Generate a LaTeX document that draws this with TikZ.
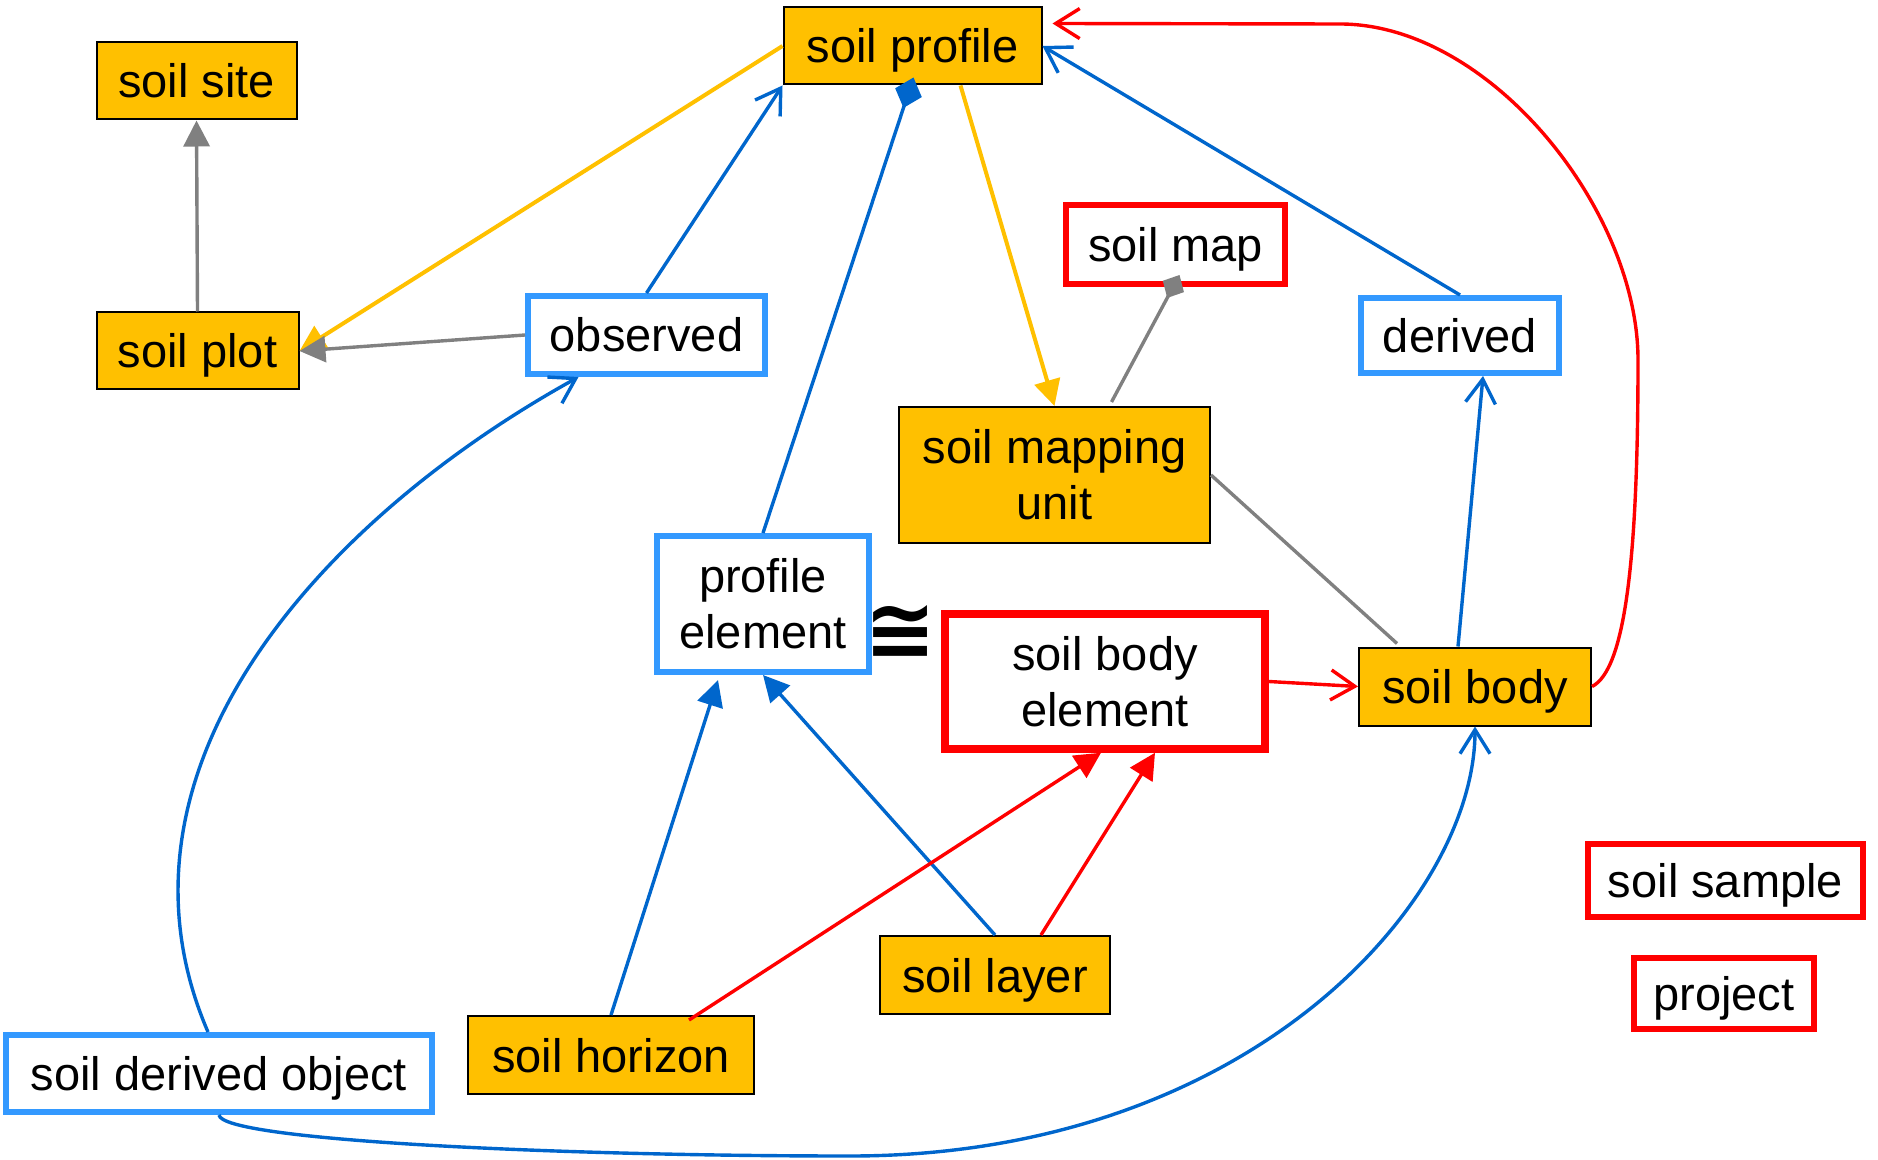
\documentclass[tikz,border=0pt]{standalone}
\usepackage{fontspec}
\setmainfont{Liberation Sans}
\newfontfamily\symfont{DejaVu Sans}
\usetikzlibrary{arrows.meta,calc}
\definecolor{ylw}{HTML}{FFC000}
\definecolor{bbord}{HTML}{3399FF}
\definecolor{bline}{HTML}{0066CC}
\definecolor{rd}{HTML}{FF0000}
\definecolor{gry}{HTML}{808080}
\begin{document}
\begin{tikzpicture}[x=0.5pt,y=-0.5pt,
  every node/.style={font=\fontsize{23.5}{28}\selectfont, inner sep=0pt, align=center},
  ybox/.style={draw=black, line width=1pt, fill=ylw},
  bbox/.style={draw=bbord, line width=3pt, fill=white},
  rbox/.style={draw=rd, line width=3pt, fill=white},
  one/.style={text height=17pt, text depth=0pt},
  conn/.style={line width=1.7pt},
  fillarr/.style={-{Triangle[length=13pt,width=13pt]}},
  openarr/.style={-{Straight Barb[length=12pt,width=15pt]}},
  diamarr/.style={-{Diamond[length=16pt,width=14pt]}},
]
\useasboundingbox (0,0) rectangle (1878,1160);
% nodes
\node[ybox, one, minimum width=129pt, minimum height=38.5pt] (sprof) at (912.5,46) {soil profile};
\node[ybox, one, minimum width=100pt, minimum height=38.5pt] (ssite) at (196.5,81) {soil site};
\node[ybox, one, minimum width=101pt, minimum height=38.5pt] (splot) at (197.5,351) {soil plot};
\node[bbox, one, minimum width=118.5pt, minimum height=39pt] (obs) at (646.5,335) {observed};
\node[rbox, one, minimum width=109.5pt, minimum height=39.5pt] (smap) at (1175.5,244.5) {soil map};
\node[bbox, one, minimum width=99pt, minimum height=37.5pt] (derived) at (1460,335.5) {derived};
\node[ybox, minimum width=155.5pt, minimum height=68pt] (smu) at (1054.5,475) {soil mapping\\unit};
\node[bbox, minimum width=106pt, minimum height=68pt] (pelem) at (763,604) {profile\\element};
\node[rbox, line width=3.75pt, minimum width=160pt, minimum height=67.5pt] (sbe) at (1105,681.5) {soil body\\element};
\node[ybox, one, minimum width=116pt, minimum height=39pt] (sbody) at (1475,686.5) {soil body};
\node[rbox, one, minimum width=137.5pt, minimum height=36.5pt] (ssample) at (1725.5,880.5) {soil sample};
\node[rbox, one, minimum width=90pt, minimum height=35.5pt] (project) at (1724,993.5) {project};
\node[ybox, one, minimum width=115pt, minimum height=39pt] (slayer) at (995,975) {soil layer};
\node[ybox, one, minimum width=143pt, minimum height=39pt] (shorizon) at (611,1055) {soil horizon};
\node[bbox, one, minimum width=213pt, minimum height=38.5pt] (sdo) at (219,1073.5) {soil derived object};
\node (cong) at (900.5,632.5) {\symfont\bfseries\fontsize{43}{43}\selectfont ≅};
% connectors
\draw[conn, line width=2pt, ylw, fillarr] (sprof.west) -- (splot.east);
\draw[conn, bline, openarr] (obs.north) -- (sprof.south west);
\draw[conn, bline, diamarr] (pelem.north) -- ($(sprof.south)+(1,-8)$);
\draw[conn, line width=2pt, ylw, fillarr] ($(sprof.south)+(48,0)$) -- (smu.north);
\draw[conn, bline, openarr] (derived.north) -- (sprof.east);
\coordinate (redend) at ($(sprof.north east)+(10,17)$);
\draw[conn, rd, openarr] (sbody.east) .. controls (1625,670) and (1638,560) .. (1638,360)
  .. controls (1638,210) and (1490,24) .. (1340,24) -- (redend);
\draw[conn, gry, -{Diamond[length=13pt,width=12pt]}] ($(smu.north)+(57,-4)$) -- ($(smap.south)+(4,-12)$);
\draw[conn, gry, fillarr] (obs.west) -- (splot.east);
\draw[conn, gry, fillarr] (splot.north) -- (ssite.south);
\draw[conn, bline, openarr] ($(sdo.north)+(-11,0)$) .. controls (95,770) and (320,520) .. ($(obs.south)+(-68,0)$);
\draw[conn, bline, openarr] (sdo.south) .. controls (222,1140) and (550,1156) .. (850,1156)
  .. controls (1250,1156) and (1475,900) .. (sbody.south);
\draw[conn, gry] (smu.east) -- ($(sbody.north west)+(39,-3)$);
\draw[conn, bline, openarr] ($(sbody.north)+(-17,0)$) -- ($(derived.south)+(23,0)$);
\draw[conn, rd, openarr] (sbe.east) -- (sbody.west);
\draw[conn, bline, fillarr] (shorizon.north) -- ($(pelem.south)+(-45,5)$);
\draw[conn, bline, fillarr] (slayer.north) -- (pelem.south);
\draw[conn, rd, fillarr] ($(shorizon.north)+(78,5)$) -- ($(sbe.south)+(-4,0)$);
\draw[conn, rd, fillarr] ($(slayer.north)+(46,0)$) -- ($(sbe.south)+(50,0)$);
\end{tikzpicture}
\end{document}
